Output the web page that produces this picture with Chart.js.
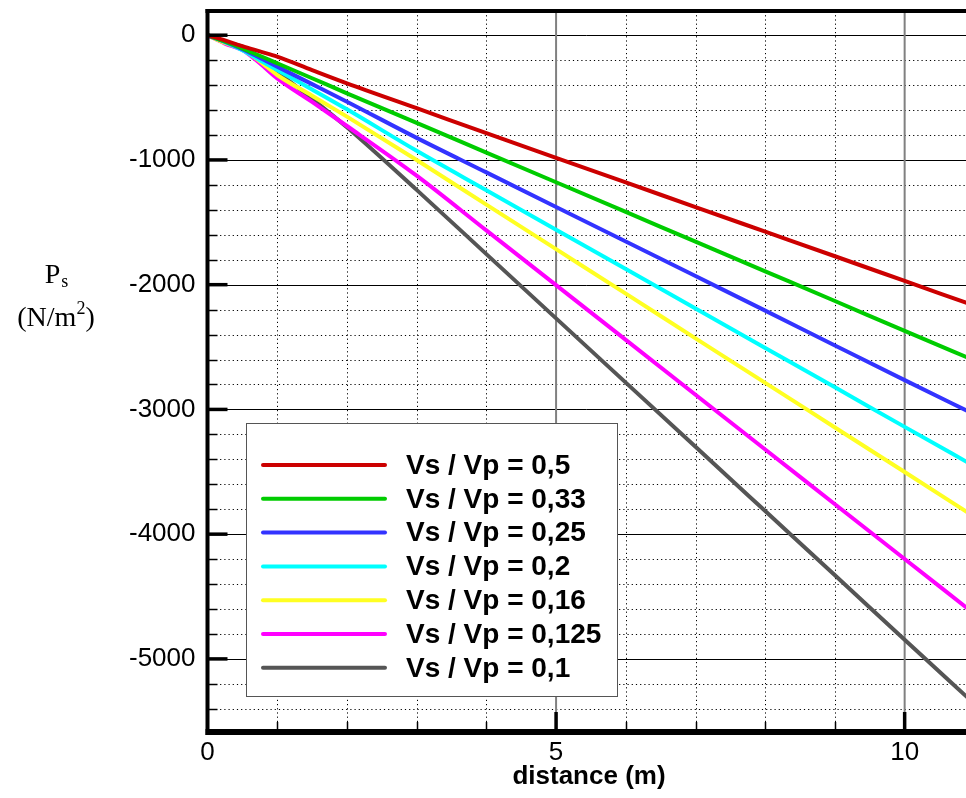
<!DOCTYPE html>
<html>
<head>
<meta charset="utf-8">
<script src="https://cdn.jsdelivr.net/npm/chart.js@4/dist/chart.umd.min.js"></script>
<style>
  html, body { margin: 0; padding: 0; background: #ffffff; }
  #c { display: block; }
</style>
</head>
<body>
<canvas id="c" width="966" height="798"></canvas>
<script>
// ---------- data ----------
const distance = [0, 0.25, 0.5, 0.75, 1, 1.5, 2, 3, 4, 5, 6, 7, 8, 9, 10, 11];
const ratio05   = [0, -42, -88, -130, -172, -280, -386, -585, -785, -983, -1180, -1378, -1575, -1772, -1970, -2168];
const ratio033  = [0, -50, -105, -165, -225, -345, -466, -703, -941, -1179, -1417, -1655, -1893, -2131, -2371, -2607];
const ratio025  = [0, -52, -112, -180, -252, -392, -533, -823, -1100, -1377, -1654, -1931, -2208, -2487, -2765, -3040];
const ratio02   = [0, -55, -120, -200, -279, -435, -594, -927, -1243, -1559, -1875, -2191, -2507, -2823, -3140, -3455];
const ratio016  = [0, -62, -115, -210, -319, -485, -653, -1001, -1358, -1715, -2072, -2430, -2787, -3145, -3502, -3860];
const ratio0125 = [0, -67, -119, -225, -346, -535, -728, -1126, -1565, -2004, -2443, -2882, -3321, -3760, -4199, -4638];
const ratio01   = [0, -57, -92, -185, -293, -510, -738, -1240, -1755, -2270, -2785, -3300, -3815, -4330, -4847, -5360];

const seriesLabels = ['Vs / Vp = 0,5', 'Vs / Vp = 0,33', 'Vs / Vp = 0,25', 'Vs / Vp = 0,2',
                      'Vs / Vp = 0,16', 'Vs / Vp = 0,125', 'Vs / Vp = 0,1'];
const seriesValues = [ratio05, ratio033, ratio025, ratio02, ratio016, ratio0125, ratio01];
const seriesColors = ['#cc0000', '#00cc00', '#3333ff', '#00ffff', '#ffff22', '#ff00ff', '#555555'];

const xTicks = [0, 5, 10];
const xMinorTicks = [1, 2, 3, 4, 6, 7, 8, 9];
const yTicks = [0, -1000, -2000, -3000, -4000, -5000];
const yMinorTicks = [-200, -400, -600, -800, -1200, -1400, -1600, -1800, -2200, -2400, -2600, -2800,
                     -3200, -3400, -3600, -3800, -4200, -4400, -4600, -4800, -5200, -5400];

const xTitle = 'distance (m)';

// ---------- plugin for grid, frame, legend, titles ----------
const framePlugin = {
  id: 'framePlugin',
  beforeDatasetsDraw(chart) {
    const { ctx, chartArea: { left, right, top, bottom }, scales: { x, y } } = chart;
    ctx.save();
    ctx.strokeStyle = '#000000';
    ctx.lineWidth = 1;
    ctx.setLineDash([1.2, 3]);
    xMinorTicks.forEach(v => {
      const px = Math.round(x.getPixelForValue(v)) + 0.5;
      ctx.beginPath(); ctx.moveTo(px, top); ctx.lineTo(px, bottom); ctx.stroke();
    });
    yMinorTicks.forEach(v => {
      const py = Math.round(y.getPixelForValue(v)) + 0.5;
      ctx.beginPath(); ctx.moveTo(left, py); ctx.lineTo(right, py); ctx.stroke();
    });
    ctx.setLineDash([]);
    ctx.strokeStyle = '#000000';
    ctx.lineWidth = 1;
    yTicks.forEach(v => {
      const py = Math.round(y.getPixelForValue(v)) + 0.5;
      ctx.beginPath(); ctx.moveTo(left, py); ctx.lineTo(right, py); ctx.stroke();
    });
    ctx.strokeStyle = '#808080';
    ctx.lineWidth = 2;
    xTicks.forEach(v => {
      if (v === 0) return;
      const px = x.getPixelForValue(v);
      ctx.beginPath(); ctx.moveTo(px, top); ctx.lineTo(px, bottom); ctx.stroke();
    });
    ctx.restore();
  },
  afterDatasetsDraw(chart) {
    const { ctx } = chart;
    ctx.save();
    ctx.fillStyle = '#ffffff';
    ctx.fillRect(246.5, 423.5, 371, 273);
    ctx.strokeStyle = '#555555';
    ctx.lineWidth = 1;
    ctx.strokeRect(246.5, 423.5, 371, 273);
    ctx.font = 'bold 28px "Liberation Sans", Arial, sans-serif';
    ctx.textBaseline = 'middle';
    ctx.textAlign = 'left';
    chart.data.datasets.forEach((ds, i) => {
      const yy = 465 + i * 33.8;
      ctx.strokeStyle = ds.borderColor;
      ctx.lineWidth = 4;
      ctx.lineCap = 'round';
      ctx.beginPath(); ctx.moveTo(263, yy); ctx.lineTo(385, yy); ctx.stroke();
      ctx.fillStyle = '#000000';
      ctx.fillText(ds.label, 406, yy + 1);
    });
    ctx.restore();
  },
  afterDraw(chart) {
    const { ctx, chartArea: { left, right, top, bottom }, scales: { x, y } } = chart;
    ctx.save();
    ctx.strokeStyle = '#000000';
    ctx.lineCap = 'butt';
    ctx.lineWidth = 4;
    ctx.beginPath(); ctx.moveTo(left - 2, top); ctx.lineTo(966, top); ctx.stroke();
    ctx.beginPath(); ctx.moveTo(left, top - 2); ctx.lineTo(left, bottom + 3); ctx.stroke();
    ctx.lineWidth = 6;
    ctx.beginPath(); ctx.moveTo(left - 2, bottom); ctx.lineTo(966, bottom); ctx.stroke();
    ctx.lineWidth = 3.5;
    yTicks.forEach(v => {
      const py = y.getPixelForValue(v);
      ctx.beginPath(); ctx.moveTo(left, py); ctx.lineTo(left + 20, py); ctx.stroke();
    });
    ctx.lineWidth = 1.5;
    yMinorTicks.forEach(v => {
      const py = Math.round(y.getPixelForValue(v)) + 0.5;
      ctx.beginPath(); ctx.moveTo(left, py); ctx.lineTo(left + 10, py); ctx.stroke();
    });
    ctx.lineWidth = 3.5;
    xTicks.forEach(v => {
      if (v === 0) return;
      const px = x.getPixelForValue(v);
      ctx.beginPath(); ctx.moveTo(px, bottom); ctx.lineTo(px, bottom - 20); ctx.stroke();
    });
    ctx.lineWidth = 1.5;
    xMinorTicks.forEach(v => {
      const px = Math.round(x.getPixelForValue(v)) + 0.5;
      ctx.beginPath(); ctx.moveTo(px, bottom); ctx.lineTo(px, bottom - 10); ctx.stroke();
    });
    ctx.fillStyle = '#000000';
    ctx.font = 'bold 26px "Liberation Sans", Arial, sans-serif';
    ctx.textAlign = 'center';
    ctx.textBaseline = 'middle';
    ctx.fillText(xTitle, 589, 777);
    ctx.textAlign = 'left';
    ctx.textBaseline = 'alphabetic';
    const big = '28px "Liberation Serif", "Times New Roman", serif';
    const small = '18px "Liberation Serif", "Times New Roman", serif';
    ctx.font = big; const wP = ctx.measureText('P').width;
    ctx.font = small; const wS = ctx.measureText('s').width;
    let sx = 56 - (wP + wS) / 2;
    ctx.font = big; ctx.fillText('P', sx, 283);
    ctx.font = small; ctx.fillText('s', sx + wP + 1, 287);
    ctx.font = big; const w1 = ctx.measureText('(N/m').width; const w3 = ctx.measureText(')').width;
    ctx.font = small; const w2 = ctx.measureText('2').width;
    sx = 56 - (w1 + w2 + w3) / 2;
    ctx.font = big; ctx.fillText('(N/m', sx, 326);
    ctx.font = small; ctx.fillText('2', sx + w1, 314);
    ctx.font = big; ctx.fillText(')', sx + w1 + w2, 326);
    ctx.restore();
  }
};

// ---------- chart ----------
const datasets = seriesLabels.map((lab, i) => ({
  label: lab,
  data: distance.map((d, j) => ({ x: d, y: seriesValues[i][j] })),
  borderColor: seriesColors[i],
  backgroundColor: seriesColors[i],
  borderWidth: 4,
  pointRadius: 0,
  fill: false,
  cubicInterpolationMode: 'monotone'
}));

new Chart(document.getElementById('c'), {
  type: 'line',
  data: { datasets },
  plugins: [framePlugin],
  options: {
    responsive: false,
    animation: false,
    devicePixelRatio: 1,
    layout: { padding: { top: 11, right: 0, left: 0, bottom: 0 } },
    plugins: { legend: { display: false }, tooltip: { enabled: false } },
    scales: {
      x: {
        type: 'linear',
        min: 0,
        max: 10.88,
        afterBuildTicks: s => { s.ticks = xTicks.map(v => ({ value: v })); },
        afterFit: s => { s.height = 66; s.paddingLeft = 0; s.paddingRight = 0; },
        grid: { display: false },
        border: { display: false },
        ticks: {
          color: '#000000',
          padding: -3,
          maxRotation: 0,
          callback: v => String(v),
          font: { family: '"Liberation Sans", Arial, sans-serif', size: 26 }
        }
      },
      y: {
        type: 'linear',
        min: -5586,
        max: 194,
        afterBuildTicks: s => { s.ticks = yTicks.map(v => ({ value: v })); },
        afterFit: s => { s.width = 207.5; s.paddingTop = 0; s.paddingBottom = 0; },
        grid: { display: false },
        border: { display: false },
        ticks: {
          color: '#000000',
          padding: 4,
          callback: v => String(v),
          font: { family: '"Liberation Sans", Arial, sans-serif', size: 26 }
        }
      }
    }
  }
});
</script>
</body>
</html>
